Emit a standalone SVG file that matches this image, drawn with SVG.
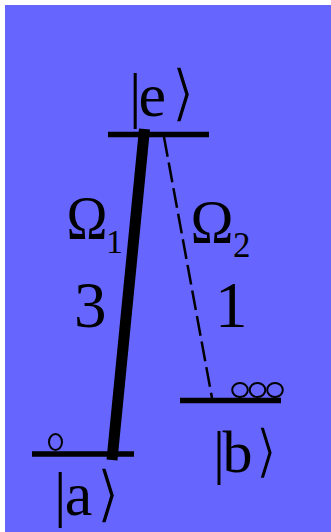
<svg xmlns="http://www.w3.org/2000/svg" width="331" height="532" viewBox="0 0 331 532">
<style>
.lvl{stroke:#000;stroke-width:5.5;fill:none}
.pop{stroke:#000;stroke-width:2;fill:none}
.t{font-family:"Liberation Serif","Times New Roman",serif;fill:#000}
.br{font-family:"DejaVu Sans",sans-serif;fill:#000;stroke:#6666ff;stroke-width:1.6}
</style>
<rect x="0" y="0" width="331" height="532" fill="#fff"/>
<rect x="5" y="5" width="326" height="527" fill="#6666ff"/>
<g id="connectors">
<line id="omega1" x1="144.5" y1="129" x2="112" y2="460" stroke="#000" stroke-width="11"/>
<line id="omega2" x1="164" y1="137" x2="212" y2="398" stroke="#000" stroke-width="2.5" stroke-dasharray="20 6"/>
</g>
<g id="level-e">
<line class="lvl" x1="108" y1="134.5" x2="209" y2="134.5"/>
<text class="t" x="129" y="116" font-size="62">|<tspan dx="-3">e</tspan></text>
<text class="br" x="171" y="114" font-size="62">⟩</text>
</g>
<g id="level-b">
<line class="lvl" x1="180" y1="400.5" x2="281" y2="400.5"/>
<ellipse class="pop" cx="240" cy="390" rx="7.8" ry="7"/>
<ellipse class="pop" cx="257.5" cy="390" rx="7.8" ry="7"/>
<ellipse class="pop" cx="275" cy="390" rx="7.8" ry="7"/>
<text class="t" x="213" y="472" font-size="60">|<tspan dx="-2.5">b</tspan></text>
<text class="br" x="255" y="471" font-size="58">⟩</text>
</g>
<g id="level-a">
<line class="lvl" x1="32" y1="454" x2="134" y2="454"/>
<ellipse class="pop" cx="55.5" cy="442" rx="6.5" ry="8"/>
<text class="t" x="54" y="515" font-size="62">|<tspan dx="-1.7">a</tspan></text>
<text class="br" x="96" y="515" font-size="62">⟩</text>
</g>
<g id="labels">
<text class="t" x="66.5" y="238" font-size="62" textLength="41" lengthAdjust="spacingAndGlyphs">Ω</text>
<text class="t" x="106" y="253" font-size="34">1</text>
<text class="t" x="74" y="327" font-size="65">3</text>
<text class="t" x="190.5" y="242" font-size="62" textLength="43" lengthAdjust="spacingAndGlyphs">Ω</text>
<text class="t" x="233" y="257" font-size="35">2</text>
<text class="t" x="215" y="327" font-size="65">1</text>
</g>
</svg>
